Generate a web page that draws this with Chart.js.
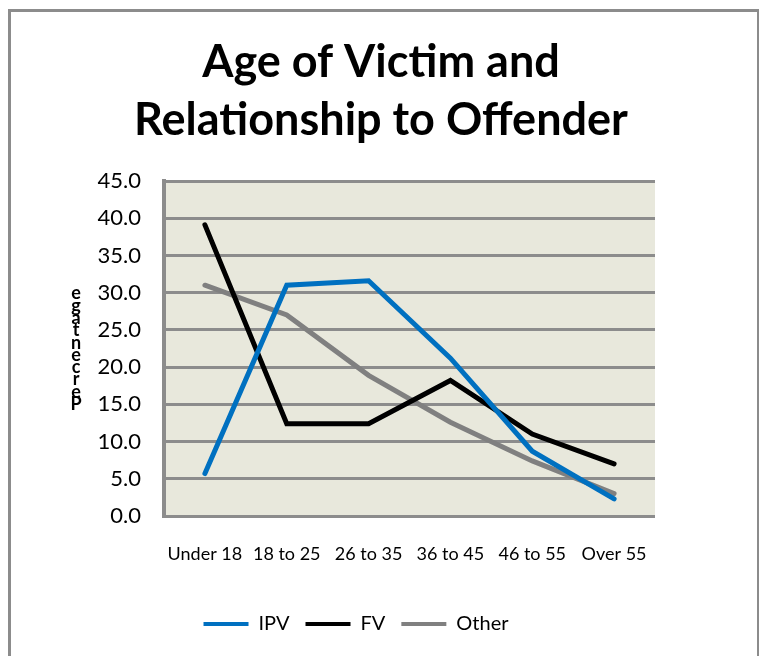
<!DOCTYPE html>
<html>
<head>
<meta charset="utf-8">
<script src="https://cdn.jsdelivr.net/npm/chart.js@4/dist/chart.umd.min.js"></script>
<style>
  html, body { margin: 0; padding: 0; background: #fff; }
  #wrap { position: relative; width: 759px; height: 656px; overflow: hidden; }
  #frame { position: absolute; left: 8px; top: 9px; width: 746px; height: 700px; border: 3px solid #8c8c8c; }
  #chart { position: absolute; left: 0; top: 0; }
</style>
</head>
<body>
<div id="wrap">
  <div id="frame"></div>
  <canvas id="chart" width="759" height="656"></canvas>
</div>
<script>
// Datos del gráfico
const ageGroups = ['Under 18', '18 to 25', '26 to 35', '36 to 45', '46 to 55', 'Over 55'];
const ipvValues = [5.7, 31.0, 31.6, 21.2, 8.7, 2.3];
const fvValues = [39.1, 12.4, 12.4, 18.2, 11.0, 7.0];
const otherValues = [31.0, 27.0, 18.9, 12.6, 7.4, 3.0];
const yTicks = [0, 5, 10, 15, 20, 25, 30, 35, 40, 45];
const titleLines = ['Age of Victim and', 'Relationship to Offender'];

const fontName = 'Lato, "Open Sans", sans-serif';

// Fondo del área de trazado
const plotBackground = {
    id: 'plotBackground',
    beforeDraw(chart) {
        const a = chart.chartArea;
        const ctx = chart.ctx;
        ctx.save();
        ctx.fillStyle = '#e8e8dc';
        ctx.fillRect(a.left, a.top, a.right - a.left, a.bottom - a.top);
        ctx.restore();
    }
};

// Título centrado sobre toda la figura
const chartTitle = {
    id: 'chartTitle',
    afterDraw(chart) {
        const ctx = chart.ctx;
        ctx.save();
        ctx.font = 'bold 45px ' + fontName;
        ctx.fillStyle = '#000';
        ctx.textAlign = 'center';
        ctx.textBaseline = 'alphabetic';
        titleLines.forEach((line, i) => ctx.fillText(line, 381, 77 + i * 58));
        ctx.restore();
    }
};

// Título del eje Y con letras apiladas
const stackedAxisTitle = {
    id: 'stackedAxisTitle',
    afterDraw(chart) {
        const ctx = chart.ctx;
        const word = 'Percentage';
        ctx.save();
        ctx.font = 'bold 18px ' + fontName;
        ctx.fillStyle = '#000';
        ctx.textAlign = 'center';
        ctx.textBaseline = 'alphabetic';
        for (let i = 0; i < word.length; i++) {
            ctx.fillText(word[i], 76, 410 - i * 12.3);
        }
        ctx.restore();
    }
};

new Chart(document.getElementById('chart'), {
    type: 'line',
    data: {
        labels: ageGroups,
        datasets: [
            { label: 'IPV', data: ipvValues, borderColor: '#0070c0', backgroundColor: '#0070c0' },
            { label: 'FV', data: fvValues, borderColor: '#000000', backgroundColor: '#000000' },
            { label: 'Other', data: otherValues, borderColor: '#808080', backgroundColor: '#808080' }
        ]
    },
    options: {
        responsive: false,
        animation: false,
        layout: { padding: { top: 181, left: 0, right: 47, bottom: 12 } },
        elements: {
            line: { borderWidth: 5, tension: 0, borderCapStyle: 'round', borderJoinStyle: 'miter' },
            point: { radius: 0, hoverRadius: 0 }
        },
        plugins: {
            title: { display: false },
            legend: {
                position: 'bottom',
                labels: {
                    color: '#000',
                    font: { family: fontName, size: 20 },
                    boxWidth: 45,
                    boxHeight: 4,
                    padding: 16,
                    generateLabels(chart) {
                        return chart.data.datasets.map((ds, i) => ({
                            text: ds.label,
                            fillStyle: ds.borderColor,
                            strokeStyle: ds.borderColor,
                            lineWidth: 0,
                            datasetIndex: i,
                            hidden: false
                        }));
                    }
                }
            },
            tooltip: { enabled: false }
        },
        scales: {
            x: {
                offset: true,
                afterFit(scale) {
                    scale.height = 82;
                },
                grid: { display: false, drawTicks: false },
                border: { display: false },
                ticks: { color: '#000', font: { family: fontName, size: 18 }, padding: 27, maxRotation: 0, autoSkip: false }
            },
            y: {
                min: 0,
                max: 45,
                afterBuildTicks(scale) {
                    scale.ticks = yTicks.map(v => ({ value: v }));
                },
                afterFit(scale) {
                    scale.width = 164;
                },
                grid: { color: '#8c8c8c', lineWidth: 3, drawTicks: false },
                border: { color: '#8c8c8c', width: 4 },
                ticks: {
                    color: '#000',
                    font: { family: fontName, size: 22 },
                    padding: 23,
                    callback: v => v.toFixed(1)
                }
            },
            // Eje auxiliar solo para reservar el margen derecho
            yRight: {
                position: 'right',
                afterFit(scale) {
                    scale.width = 57;
                },
                grid: { display: false },
                border: { display: false },
                ticks: { display: false }
            }
        }
    },
    plugins: [plotBackground, chartTitle, stackedAxisTitle]
});
</script>
</body>
</html>
